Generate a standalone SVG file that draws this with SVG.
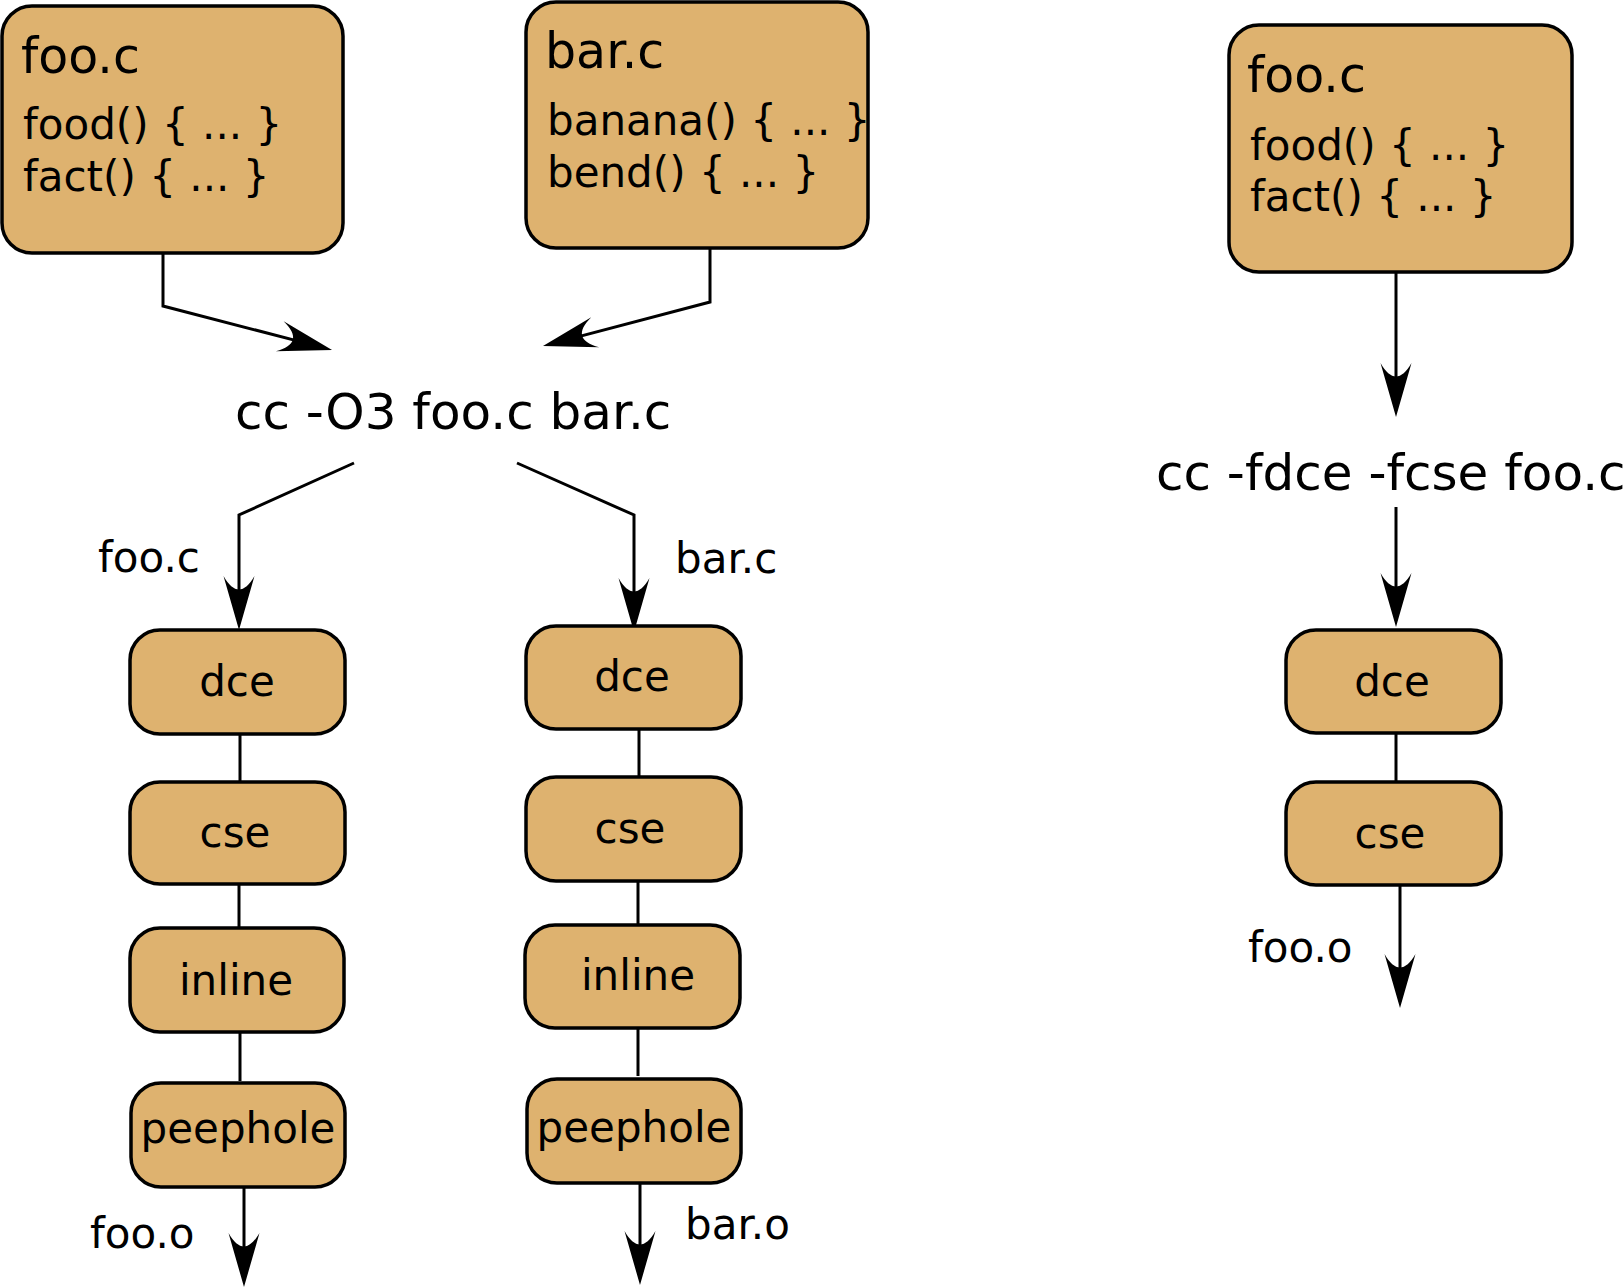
<svg xmlns="http://www.w3.org/2000/svg" width="1623" height="1288" viewBox="0 0 1623 1288">
<style>
.box{fill:#deb26f;stroke:#000;stroke-width:3.5}
.t{font-family:"DejaVu Sans",sans-serif;fill:#000}
.title{font-size:49px}
.code{font-size:42px}
.lbl{font-size:42px}
.pass{font-size:42px;text-anchor:middle}
.cmd{font-size:50px}
.c{fill:none;stroke:#000;stroke-width:3}
.a{marker-end:url(#arr)}
</style>
<defs>
<marker id="arr" markerUnits="userSpaceOnUse" orient="auto" refX="0" refY="0" markerWidth="80" markerHeight="80" overflow="visible">
<path d="M30,0 L-24,-15.5 C-6,-5 -6,5 -24,15.5 Z" fill="#000"/>
</marker>
</defs>
<rect width="1623" height="1288" fill="#fff"/>
<g id="connectors">
<polyline class="c a" points="163,253 163,306 303,342.4"/>
<polyline class="c a" points="710,248 710,302 572,338.4"/>
<polyline class="c a" points="354,463 239,515 239,600"/>
<polyline class="c a" points="517,463 634,515 634,602"/>
<line class="c" x1="240" y1="734" x2="240" y2="782"/>
<line class="c" x1="239" y1="884" x2="239" y2="928"/>
<line class="c" x1="240" y1="1032" x2="240" y2="1081"/>
<line class="c a" x1="244" y1="1186" x2="244" y2="1257"/>
<line class="c" x1="639" y1="729" x2="639" y2="777"/>
<line class="c" x1="638" y1="881" x2="638" y2="925"/>
<line class="c" x1="638" y1="1028" x2="638" y2="1076"/>
<line class="c a" x1="640" y1="1182" x2="640" y2="1255"/>
<line class="c a" x1="1396" y1="272" x2="1396" y2="387"/>
<line class="c a" x1="1396" y1="507" x2="1396" y2="597"/>
<line class="c" x1="1396" y1="733" x2="1396" y2="782"/>
<line class="c a" x1="1400" y1="885" x2="1400" y2="978"/>
</g>
<g id="src-foo">
<rect class="box" x="2" y="6" width="341" height="247" rx="30"/>
<text class="t title" x="21" y="73">foo.c</text>
<text class="t code" x="23" y="139">food() { ... }</text>
<text class="t code" x="23" y="191">fact() { ... }</text>
</g>
<g id="src-bar">
<rect class="box" x="526" y="2" width="342" height="246" rx="30"/>
<text class="t title" x="545" y="68">bar.c</text>
<text class="t code" x="547" y="135">banana() { ... }</text>
<text class="t code" x="547" y="187">bend() { ... }</text>
</g>
<g id="src-foo-2">
<rect class="box" x="1229" y="25" width="343" height="247" rx="30"/>
<text class="t title" x="1247" y="92">foo.c</text>
<text class="t code" x="1250" y="160">food() { ... }</text>
<text class="t code" x="1250" y="211">fact() { ... }</text>
</g>
<g id="cmd1"><text class="t cmd" x="235" y="429">cc -O3 foo.c bar.c</text></g>
<g id="cmd2"><text class="t cmd" x="1156" y="490">cc -fdce -fcse foo.c</text></g>
<g id="labels">
<text class="t lbl" x="98" y="572">foo.c</text>
<text class="t lbl" x="675" y="573">bar.c</text>
<text class="t lbl" x="90" y="1248">foo.o</text>
<text class="t lbl" x="685" y="1239">bar.o</text>
<text class="t lbl" x="1248" y="962">foo.o</text>
</g>
<g id="l-dce"><rect class="box" x="130" y="630" width="215" height="104" rx="30"/><text class="t pass" x="237" y="696">dce</text></g>
<g id="l-cse"><rect class="box" x="130" y="782" width="215" height="102" rx="30"/><text class="t pass" x="235" y="847">cse</text></g>
<g id="l-inline"><rect class="box" x="130" y="928" width="214" height="104" rx="30"/><text class="t pass" x="236" y="995">inline</text></g>
<g id="l-peephole"><rect class="box" x="131" y="1083" width="214" height="104" rx="30"/><text class="t pass" x="238" y="1143">peephole</text></g>
<g id="r-dce"><rect class="box" x="526" y="626" width="215" height="103" rx="30"/><text class="t pass" x="632" y="691">dce</text></g>
<g id="r-cse"><rect class="box" x="526" y="777" width="215" height="104" rx="30"/><text class="t pass" x="630" y="843">cse</text></g>
<g id="r-inline"><rect class="box" x="525" y="925" width="215" height="103" rx="30"/><text class="t pass" x="638" y="990">inline</text></g>
<g id="r-peephole"><rect class="box" x="527" y="1079" width="214" height="104" rx="30"/><text class="t pass" x="634" y="1142">peephole</text></g>
<g id="f-dce"><rect class="box" x="1286" y="630" width="215" height="103" rx="30"/><text class="t pass" x="1392" y="696">dce</text></g>
<g id="f-cse"><rect class="box" x="1286" y="782" width="215" height="103" rx="30"/><text class="t pass" x="1390" y="848">cse</text></g>
</svg>
